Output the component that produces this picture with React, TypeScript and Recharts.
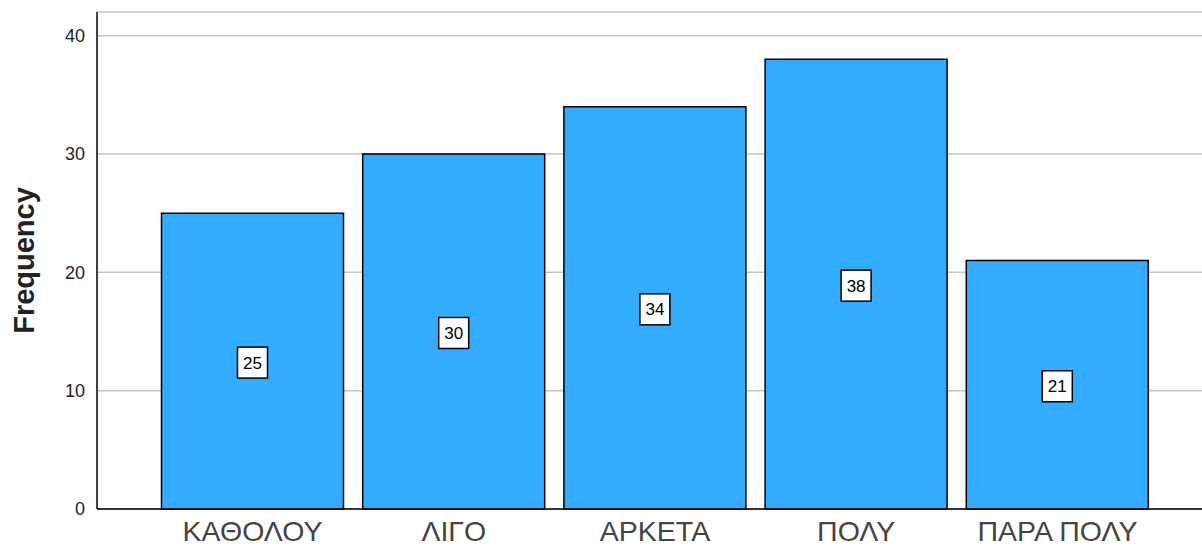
import React from 'react';
import { BarChart, Bar, XAxis, YAxis, CartesianGrid, LabelList } from 'recharts';

const categories = ['ΚΑΘΟΛΟΥ', 'ΛΙΓΟ', 'ΑΡΚΕΤΑ', 'ΠΟΛΥ', 'ΠΑΡΑ ΠΟΛΥ'];
const frequencies = [25, 30, 34, 38, 21];
const yTicks = [0, 10, 20, 30, 40];

const data = categories.map((name, i) => ({ name, value: frequencies[i] }));

// white boxed count label in the middle of each bar
const BoxLabel = (props: any) => {
  const { x, y, width, height, value } = props;
  const cx = x + width / 2;
  const cy = y + height / 2;
  return (
    <g>
      <rect x={cx - 15} y={cy - 14} width={30} height={31} fill="#fff" stroke="#000" strokeWidth={1.5} />
      <text x={cx} y={cy + 3} textAnchor="middle" dominantBaseline="middle" fontSize={17} fill="#000"
        fontFamily="'Liberation Sans', Arial, sans-serif">
        {value}
      </text>
    </g>
  );
};

export default function App() {
  return (
    <div style={{ position: 'absolute', left: 0, top: 0, width: 1202, height: 548, background: '#fff', fontFamily: "'Liberation Sans', Arial, sans-serif" }}>
      <BarChart width={1202} height={548} data={data} margin={{ top: 12, right: 0, left: 0, bottom: 0 }} barCategoryGap={9.5}>
        <CartesianGrid horizontal vertical={false} stroke="#c4c4c4" strokeWidth={1.5} />
        <XAxis
          dataKey="name"
          height={39}
          padding={{ left: 55, right: 44 }}
          tickLine={false}
          axisLine={{ stroke: '#000', strokeWidth: 1.5 }}
          tick={{ fontSize: 28.5, fill: '#444', dy: 4 }}
          interval={0}
        />
        <YAxis
          width={97}
          domain={[0, 42]}
          ticks={yTicks}
          tickLine={false}
          axisLine={{ stroke: '#000', strokeWidth: 1.5 }}
          tick={{ fontSize: 18, fill: '#222', dx: -4 }}
          label={{ value: 'Frequency', angle: -90, position: 'insideLeft', offset: 24, style: { fontSize: 29, fontWeight: 'bold', fill: '#222', textAnchor: 'middle' } }}
        />
        <Bar dataKey="value" fill="#33abff" stroke="#000" strokeWidth={1.5} isAnimationActive={false}>
          <LabelList dataKey="value" content={BoxLabel} />
        </Bar>
      </BarChart>
    </div>
  );
}
